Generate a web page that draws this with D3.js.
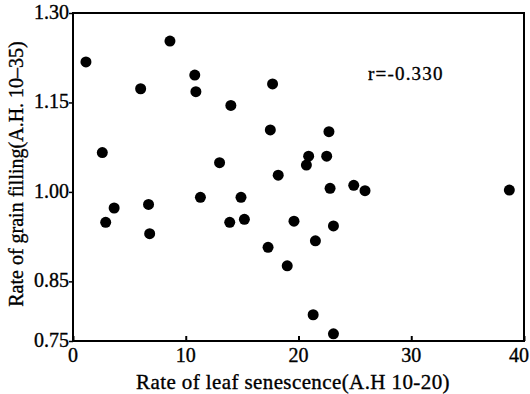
<!DOCTYPE html>
<html><head><meta charset="utf-8">
<script src="https://cdn.jsdelivr.net/npm/d3@7"></script>
<style>body{margin:0;background:#fff}svg{display:block}</style>
</head><body>
<script>
const xVals = [1.15,8.6,6.0,10.8,10.9,14.0,2.6,13.0,11.3,14.9,17.7,17.5,22.7,20.9,20.7,22.5,18.2,22.8,24.9,25.9,38.7,3.65,2.9,6.7,6.8,13.9,15.2,17.3,19.6,23.1,21.5,19.0,21.3,23.1];
const yVals = [1.218,1.253,1.173,1.196,1.168,1.145,1.066,1.049,0.991,0.991,1.181,1.104,1.101,1.060,1.045,1.060,1.028,1.006,1.011,1.002,1.003,0.973,0.949,0.979,0.930,0.949,0.954,0.907,0.951,0.943,0.918,0.876,0.794,0.762];
const xTicks = [0,10,20,30,40];
const yTicks = [0.75,0.85,1.00,1.15,1.30];
const xTitle = "Rate of leaf senescence(A.H 10-20)";
const yTitle = "Rate of grain filling(A.H. 10\u201335)";
const note = "r=-0.330";

const FONT = '"Liberation Serif"';
const W=530,H=394;
const svg=d3.select("body").append("svg").attr("width",W).attr("height",H);
const x=d3.scaleLinear().domain([0,40]).range([73,524]);
const y=d3.scaleLinear().domain([0.75,1.30]).range([341,13]);

svg.append("rect").attr("x",73).attr("y",13).attr("width",451).attr("height",328)
  .attr("fill","none").attr("stroke","#000").attr("stroke-width",2);

// tick marks via axes (labels drawn separately)
svg.append("g").attr("transform","translate(0,341)").attr("stroke-width",2)
  .call(d3.axisBottom(x).tickValues(xTicks).tickSizeInner(-5).tickSizeOuter(0).tickFormat(()=>""))
  .call(g=>g.select(".domain").remove());
svg.append("g").attr("transform","translate(73,0)").attr("stroke-width",1.5)
  .call(d3.axisLeft(y).tickValues(yTicks).tickSizeInner(4).tickSizeOuter(0).tickFormat(()=>""))
  .call(g=>g.select(".domain").remove());

const txt = sel => sel.style("font-family",FONT).attr("fill","#000").attr("stroke","#000").attr("stroke-width",0.35);

const fx=d3.format("d"), fy=d3.format(".2f");
svg.append("g").selectAll("text").data(xTicks).join("text")
  .attr("x",d=>Math.min(x(d),519)).attr("y",362).attr("text-anchor","middle")
  .attr("font-size",20).call(txt).text(d=>fx(d));
svg.append("g").selectAll("text").data(yTicks).join("text")
  .attr("x",69).attr("y",d=>y(d)+6).attr("text-anchor","end")
  .attr("font-size",20).call(txt).text(d=>fy(d));

svg.append("g").selectAll("circle").data(xVals.map((v,i)=>[v,yVals[i]])).join("circle")
  .attr("cx",d=>x(d[0])).attr("cy",d=>y(d[1])).attr("r",5.5).attr("fill","#000");

svg.append("text").attr("x",368).attr("y",80).attr("font-size",19).call(txt).style("letter-spacing","1.2px").text(note);
svg.append("text").attr("x",293).attr("y",389).attr("text-anchor","middle").attr("font-size",21).call(txt).style("letter-spacing","0.4px").text(xTitle);
svg.append("text").attr("transform","translate(23,174) rotate(-90)").attr("text-anchor","middle").attr("font-size",20).call(txt).text(yTitle);
</script>
</body></html>
